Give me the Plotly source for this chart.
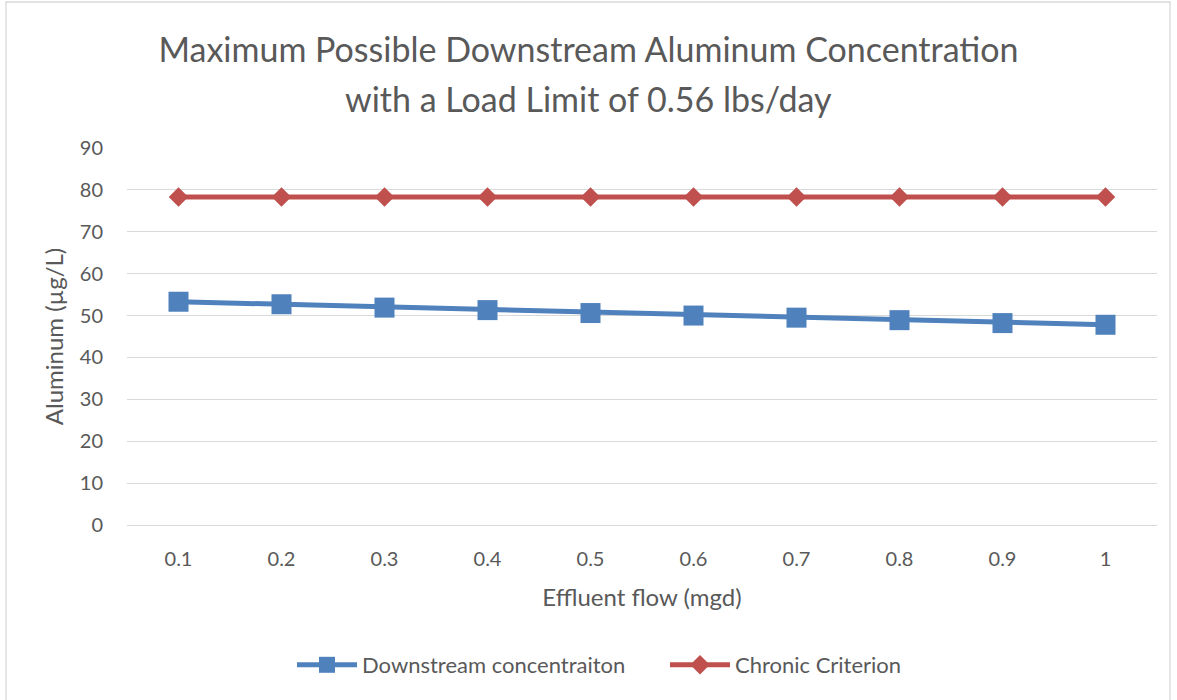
import plotly.graph_objects as go

flows = ["0.1", "0.2", "0.3", "0.4", "0.5", "0.6", "0.7", "0.8", "0.9", "1"]
downstream = [53.3, 52.7, 51.9, 51.3, 50.6, 50.0, 49.5, 48.9, 48.2, 47.8]
chronic = [78.3, 78.3, 78.3, 78.3, 78.3, 78.3, 78.3, 78.3, 78.3, 78.3]
y_ticks = [0, 10, 20, 30, 40, 50, 60, 70, 80, 90]
title_lines = ["Maximum Possible Downstream Aluminum Concentration",
               "with a Load Limit of 0.56 lbs/day"]

W, H = 1177, 700
ML, MR, MT, MB = 127, 20, 148, 175
pw, ph = W - ML - MR, H - MT - MB

font = "Lato, 'Open Sans', sans-serif"
grey = "#595959"

fig = go.Figure()
fig.add_trace(go.Scatter(
    x=flows, y=downstream, name="Downstream concentraiton",
    mode="lines+markers",
    line=dict(color="#4F81BD", width=5),
    marker=dict(symbol="square", size=20, color="#4F81BD"),
))
fig.add_trace(go.Scatter(
    x=flows, y=chronic, name="Chronic Criterion",
    mode="lines+markers",
    line=dict(color="#C0504D", width=5),
    marker=dict(symbol="diamond", size=15, color="#C0504D"),
))

fig.update_layout(
    width=W, height=H,
    margin=dict(l=ML, r=MR, t=MT, b=MB, autoexpand=False),
    paper_bgcolor="white", plot_bgcolor="white",
    font=dict(family=font, color=grey, size=20),
    title=dict(
        text=title_lines[0],
        x=0.5, xanchor="center", y=1 - 50 / H, yanchor="middle",
        font=dict(size=34, color=grey, family=font),
    ),
    annotations=[dict(
        text=title_lines[1], xref="paper", yref="paper",
        x=(W / 2 - ML) / pw, y=((H - MB) - 98) / ph, xanchor="center", yanchor="middle",
        showarrow=False, font=dict(size=34, color=grey, family=font),
    )],
    xaxis=dict(
        type="category", range=[-0.5, 9.5], showgrid=False, zeroline=False,
        showline=False, ticks="", ticklabelstandoff=20, tickfont=dict(size=20, color=grey),
        title=dict(text="Effluent flow (mgd)", font=dict(size=24, color=grey), standoff=20),
    ),
    yaxis=dict(
        range=[0, 90], tickvals=y_ticks, showgrid=True, gridcolor="#D9D9D9", gridwidth=1.3,
        zeroline=True, zerolinecolor="#D9D9D9", zerolinewidth=1.3,
        showline=False, ticks="", ticklabelstandoff=23, tickfont=dict(size=20, color=grey),
        title=dict(text="Aluminum (µg/L)", font=dict(size=24, color=grey), standoff=9),
    ),
    legend=dict(
        orientation="h", x=(292 - ML) / pw, xanchor="left",
        y=-(665 - (H - MB)) / ph, yanchor="middle",
        font=dict(size=22, color=grey), itemwidth=60,
        entrywidth=298, entrywidthmode="pixels",
        bgcolor="rgba(0,0,0,0)",
    ),
    shapes=[dict(
        type="rect", xref="paper", yref="paper",
        x0=(6 - ML) / pw, x1=(1170 - ML) / pw,
        y0=-(710 - MT - ph) / ph, y1=1 + (MT - 2) / ph,
        line=dict(color="#D9D9D9", width=1.3), fillcolor="rgba(0,0,0,0)", layer="below",
    )],
)

fig.write_html("out.html", config={"displayModeBar": False},
               post_script="document.body.style.margin='0';document.body.style.overflow='hidden';")
